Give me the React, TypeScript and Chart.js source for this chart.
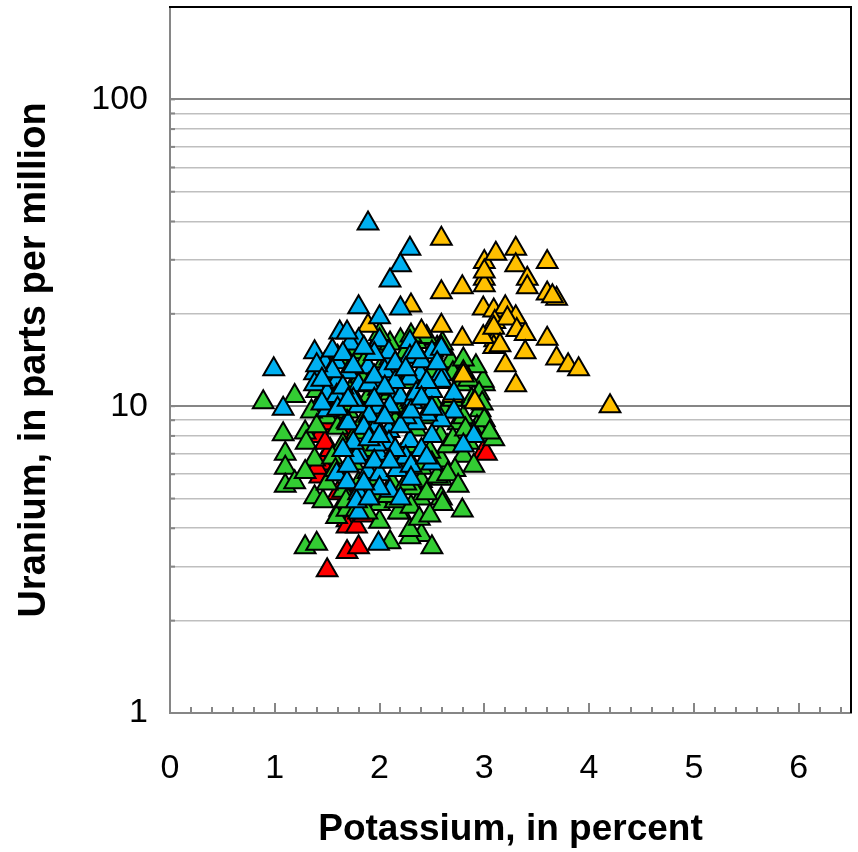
import React, { useEffect, useRef } from 'react';
import { Chart, registerables } from 'chart.js';

Chart.register(...registerables);

// Axis tick values
const xTickLabels = [0, 1, 2, 3, 4, 5, 6];
const xMinorStep = 0.2;
const yTickLabels = [1, 10, 100];
const yGridValues = [1, 2, 3, 4, 5, 6, 7, 8, 9, 10, 20, 30, 40, 50, 60, 70, 80, 90, 100];

// Samples: [potassium %, uranium ppm]
const redPoints: [number, number][] = [
  [1.5, 2.92], [1.69, 3.35], [1.8, 3.47], [1.45, 8.55], [1.45, 6.5], [1.43, 5.9],
  [1.69, 4.25], [2.99, 7.1], [1.4, 8.3], [1.4, 6.3], [1.43, 8.0], [1.53, 7.2],
  [1.69, 4.05], [1.78, 4.05], [1.62, 4.6], [3.02, 7.0], [1.5, 8.8], [1.55, 6.0],
  [1.6, 5.2], [1.48, 7.6], [1.75, 5.0], [1.85, 4.4], [1.7, 8.0], [1.6, 9.2],
];

const greenPoints: [number, number][] = [
  [0.89, 10.3], [1.19, 10.8], [1.08, 8.1], [1.1, 7.0], [1.1, 6.3], [1.1, 5.5],
  [1.29, 8.2], [1.3, 7.6], [1.19, 5.65], [1.38, 6.7], [1.29, 6.1], [1.29, 3.47],
  [1.4, 3.56], [2.4, 3.8], [2.5, 3.47], [2.29, 3.74], [2.1, 3.6], [2.79, 4.57],
  [2.59, 5.0], [2.39, 5.0], [3.09, 7.8], [3.0, 11.8], [2.2, 4.5], [2.0, 4.2],
  [1.38, 5.05], [1.46, 4.9], [1.59, 4.35], [1.69, 4.6], [2.29, 3.95], [2.59, 5.8],
  [2.4, 5.7], [2.29, 6.6], [2.59, 6.65], [2.8, 6.9], [2.18, 4.5], [2.2, 16.4],
  [2.4, 16.6], [2.99, 12.1], [2.96, 9.7], [2.93, 8.55], [2.51, 15.2],
  [1.45, 10.5], [1.5, 9.2], [1.55, 11.5], [1.6, 8.5], [1.62, 10.2], [1.65, 7.5],
  [1.7, 9.6], [1.72, 11.2], [1.75, 6.5], [1.78, 8.2], [1.82, 12.5], [1.85, 9.0],
  [1.88, 7.2], [1.9, 10.8], [1.92, 5.8], [1.95, 8.6], [1.98, 12.0], [2.0, 6.6],
  [2.02, 9.4], [2.05, 14.0], [2.08, 7.9], [2.1, 11.0], [2.12, 5.6], [2.15, 8.9],
  [2.18, 13.0], [2.2, 6.9], [2.22, 9.9], [2.25, 12.0], [2.28, 7.4], [2.3, 10.5],
  [2.32, 5.4], [2.35, 8.4], [2.38, 14.5], [2.4, 6.3], [2.42, 11.5], [2.45, 9.2],
  [2.48, 7.1], [2.5, 13.0], [2.52, 10.2], [2.55, 5.9], [2.58, 8.0], [2.6, 12.0],
  [2.62, 9.6], [2.65, 7.4], [2.68, 14.0], [2.7, 10.5], [2.72, 6.2], [2.75, 8.8],
  [2.78, 11.8], [2.8, 9.2], [2.85, 7.6], [2.88, 10.5], [2.9, 8.2], [2.92, 13.5],
  [1.5, 12.8], [1.55, 6.8], [1.6, 14.5], [1.65, 5.3], [1.75, 15.0],
  [1.8, 5.6], [1.85, 13.8], [1.95, 15.5], [2.0, 4.8], [2.1, 16.0], [2.15, 4.9],
  [2.25, 15.0], [2.3, 4.7], [2.35, 16.2], [2.45, 5.2], [2.55, 15.5], [2.6, 4.8],
  [2.65, 6.0], [2.7, 12.8], [2.75, 5.5], [2.85, 12.2], [2.9, 6.4], [2.95, 11.0],
  [2.8, 14.2], [2.6, 16.0], [2.45, 16.8], [2.3, 17.0], [2.0, 17.2], [1.7, 14.0],
  [1.4, 11.2], [1.35, 9.6], [1.4, 8.6], [1.5, 5.6], [1.58, 6.2],
  [1.68, 4.9], [1.78, 4.6], [1.88, 4.5], [1.98, 5.2], [2.08, 5.1], [2.25, 5.6],
  [2.38, 4.3], [2.48, 4.4], [2.7, 7.8], [2.82, 8.4], [3.0, 9.0], [3.05, 8.2],
  [2.98, 10.2],
];

const yellowPoints: [number, number][] = [
  [2.59, 35.1], [3.0, 29.5], [3.11, 31.4], [3.3, 32.6], [3.0, 26.0], [3.0, 24.8],
  [3.0, 27.5], [3.3, 28.8], [3.41, 26.0], [3.41, 24.4], [3.6, 29.5], [3.6, 23.3],
  [3.69, 22.4], [3.65, 22.8], [2.59, 23.5], [2.79, 24.4], [2.99, 20.8], [3.09, 20.5],
  [3.2, 21.0], [3.3, 19.5], [3.1, 18.8], [3.22, 19.3], [2.3, 21.3], [1.89, 18.3],
  [2.59, 18.3], [2.79, 16.6], [3.1, 16.4], [3.09, 15.6], [3.31, 17.7], [3.39, 17.2],
  [3.6, 16.6], [3.39, 15.0], [3.2, 13.6], [3.69, 14.3], [3.8, 13.6], [3.9, 13.2],
  [3.3, 11.7], [4.2, 10.0], [2.8, 12.9], [2.99, 16.8], [2.8, 12.6], [2.91, 10.3],
  [3.09, 18.0], [3.15, 15.8], [2.59, 15.5], [2.4, 17.5], [2.7, 10.8],
];

const bluePoints: [number, number][] = [
  [1.89, 39.4], [2.29, 32.6], [2.2, 28.8], [2.1, 25.7], [1.8, 21.0], [2.2, 20.8],
  [2.0, 19.5], [1.62, 17.4], [1.8, 16.4], [2.0, 16.4], [2.29, 16.2], [2.5, 15.0],
  [2.59, 15.4], [2.1, 14.3], [1.89, 13.4], [1.72, 16.0], [2.29, 14.5], [2.39, 12.7],
  [2.59, 12.7], [0.99, 13.2], [1.08, 9.8], [1.38, 15.0], [1.38, 12.8], [1.48, 13.8],
  [1.59, 13.9], [1.7, 12.9], [1.69, 17.4], [1.8, 11.7], [1.59, 12.0], [1.38, 11.8],
  [1.5, 9.7], [1.69, 8.9], [1.8, 10.0], [1.99, 9.9], [2.09, 15.0], [2.1, 12.7],
  [1.99, 11.4], [2.15, 10.7], [2.09, 8.3], [1.97, 8.55], [1.5, 11.0], [1.59, 10.8],
  [2.29, 12.3], [2.59, 12.1], [2.71, 11.0], [2.2, 10.7], [2.31, 10.3], [2.1, 10.0],
  [2.71, 9.6], [2.59, 9.0], [2.9, 8.0], [2.8, 7.45], [2.5, 8.0], [2.29, 7.7],
  [2.09, 7.6], [1.99, 7.0], [1.8, 7.0], [1.7, 8.8], [1.59, 6.0], [1.69, 5.65],
  [1.8, 5.2], [1.8, 4.5], [1.89, 6.1], [2.0, 6.0], [2.1, 5.3], [2.2, 5.0],
  [1.99, 3.56], [1.78, 6.8], [1.78, 4.9], [1.97, 7.5], [2.17, 6.2],
  [2.45, 9.4], [2.35, 8.8], [2.4, 14.0], [1.9, 9.3],
  [1.75, 10.5], [1.65, 11.5], [2.05, 13.0], [2.5, 11.2], [1.45, 10.2], [1.55, 15.2],
  [2.25, 9.2], [2.15, 12.0], [1.9, 11.8], [1.95, 14.8], [2.35, 11.0], [2.25, 6.8],
  [2.4, 7.2], [2.0, 5.4], [1.9, 5.0], [2.5, 6.5],
  [1.55, 13.0], [1.65, 14.8], [1.75, 13.5], [1.85, 15.5], [1.95, 12.5], [2.05, 11.5],
  [2.15, 13.8], [2.25, 13.2], [2.35, 15.0], [2.45, 12.0], [2.55, 13.8],
  [1.6, 9.8], [1.7, 10.5], [1.85, 8.5], [1.95, 10.5], [2.05, 9.2],
  [2.2, 8.6], [2.3, 9.6], [2.4, 10.6], [2.5, 9.8], [1.75, 7.6],
  [1.9, 7.8], [2.0, 8.0], [2.15, 7.2], [2.3, 6.4], [2.45, 6.8], [1.85, 5.6],
  [1.95, 6.6], [2.1, 6.6], [2.3, 5.8], [1.7, 6.4], [1.65, 7.2], [1.4, 13.6],
  [1.45, 12.2],
];

const FONT = "'Liberation Sans', Arial, Helvetica, sans-serif";
const AXIS_GRAY = '#868686';

const toXY = (pts: [number, number][]) => pts.map(([x, y]) => ({ x, y }));

// Listed bottom layer first; `order` makes later groups paint on top
const series = [
  { label: 'Red', points: redPoints, color: '#FF0000' },
  { label: 'Green', points: greenPoints, color: '#33CC33' },
  { label: 'Yellow', points: yellowPoints, color: '#FFC000' },
  { label: 'Blue', points: bluePoints, color: '#00B0F0' },
];

// Inside tick marks plus the black top/right frame of the plot area
const framePlugin = {
  id: 'plotFrame',
  beforeDatasetsDraw(chart: any) {
    const { ctx, chartArea: a, scales } = chart;
    const xs = scales.x;
    const ys = scales.y;
    ctx.save();
    ctx.strokeStyle = AXIS_GRAY;
    ctx.lineWidth = 2;
    const n = Math.floor(xs.max / xMinorStep + 1e-9);
    for (let i = 1; i <= n; i++) {
      const v = i * xMinorStep;
      if (v >= xs.max - 1e-9) break;
      const px = Math.round(xs.getPixelForValue(v));
      const major = Math.abs(v - Math.round(v)) < 1e-6;
      ctx.beginPath();
      ctx.moveTo(px, a.bottom);
      ctx.lineTo(px, a.bottom - (major ? 10 : 6));
      ctx.stroke();
    }
    for (const v of yGridValues) {
      const py = ys.getPixelForValue(v);
      ctx.beginPath();
      ctx.moveTo(a.left, py);
      ctx.lineTo(a.left + 5, py);
      ctx.stroke();
    }
    ctx.strokeStyle = '#000000';
    ctx.lineWidth = 2;
    ctx.beginPath();
    ctx.moveTo(a.left - 1, a.top);
    ctx.lineTo(a.right, a.top);
    ctx.lineTo(a.right, a.bottom);
    ctx.stroke();
    ctx.restore();
  },
};

export default function App() {
  const canvasRef = useRef<HTMLCanvasElement | null>(null);

  useEffect(() => {
    const canvas = canvasRef.current;
    if (!canvas) return;
    const chart = new Chart(canvas, {
      type: 'scatter',
      data: {
        datasets: series.map((s, i) => ({
          label: s.label,
          data: toXY(s.points),
          order: series.length - i,
          pointStyle: 'triangle',
          radius: 12,
          hoverRadius: 12,
          backgroundColor: s.color,
          borderColor: '#000000',
          borderWidth: 2,
        })),
      },
      options: {
        responsive: false,
        animation: false,
        devicePixelRatio: 1,
        layout: { autoPadding: false, padding: { left: 0, right: 7, top: 7, bottom: 0 } },
        plugins: {
          legend: { display: false },
          tooltip: { enabled: false },
        },
        scales: {
          x: {
            type: 'linear',
            min: 0,
            max: 6.5,
            afterBuildTicks: (s: any) => {
              s.ticks = xTickLabels.map((v) => ({ value: v }));
            },
            afterFit: (s: any) => {
              s.height = 139;
              s.paddingLeft = 0;
              s.paddingRight = 0;
            },
            grid: { drawOnChartArea: false, drawTicks: false },
            border: { display: true, color: AXIS_GRAY, width: 2 },
            ticks: {
              autoSkip: false,
              maxRotation: 0,
              padding: 35,
              color: '#000000',
              font: { family: FONT, size: 34 },
              callback: (v: any) => String(v),
            },
            title: {
              display: true,
              text: 'Potassium, in percent',
              color: '#000000',
              font: { family: FONT, size: 37, weight: 'bold' },
              padding: { top: 0, bottom: 0 },
            },
          },
          y: {
            type: 'logarithmic',
            min: 1,
            max: 200,
            afterBuildTicks: (s: any) => {
              s.ticks = yGridValues.map((v) => ({ value: v }));
            },
            afterFit: (s: any) => {
              s.width = 170;
              s.paddingTop = 0;
              s.paddingBottom = 0;
            },
            grid: {
              drawTicks: false,
              color: (c: any) => {
                const v = c.tick && c.tick.value;
                if (v === 1) return 'rgba(0,0,0,0)';
                return v === 10 || v === 100 ? '#868686' : '#BFBFBF';
              },
              lineWidth: (c: any) => {
                const v = c.tick && c.tick.value;
                return v === 10 || v === 100 ? 2 : 1.6;
              },
            },
            border: { display: true, color: AXIS_GRAY, width: 2 },
            ticks: {
              autoSkip: false,
              padding: 22,
              color: '#000000',
              font: { family: FONT, size: 34 },
              callback: (v: any) => (yTickLabels.includes(Number(v)) ? String(v) : ''),
            },
            title: {
              display: true,
              text: 'Uranium, in parts per million',
              color: '#000000',
              font: { family: FONT, size: 38, weight: 'bold' },
              padding: { top: 12, bottom: 0 },
            },
          },
        },
      },
      plugins: [framePlugin],
    });
    return () => chart.destroy();
  }, []);

  return (
    <div style={{ position: 'absolute', left: 0, top: 0, width: 858, height: 852, background: '#ffffff' }}>
      <canvas ref={canvasRef} width={858} height={852} style={{ width: 858, height: 852, display: 'block' }} />
    </div>
  );
}
